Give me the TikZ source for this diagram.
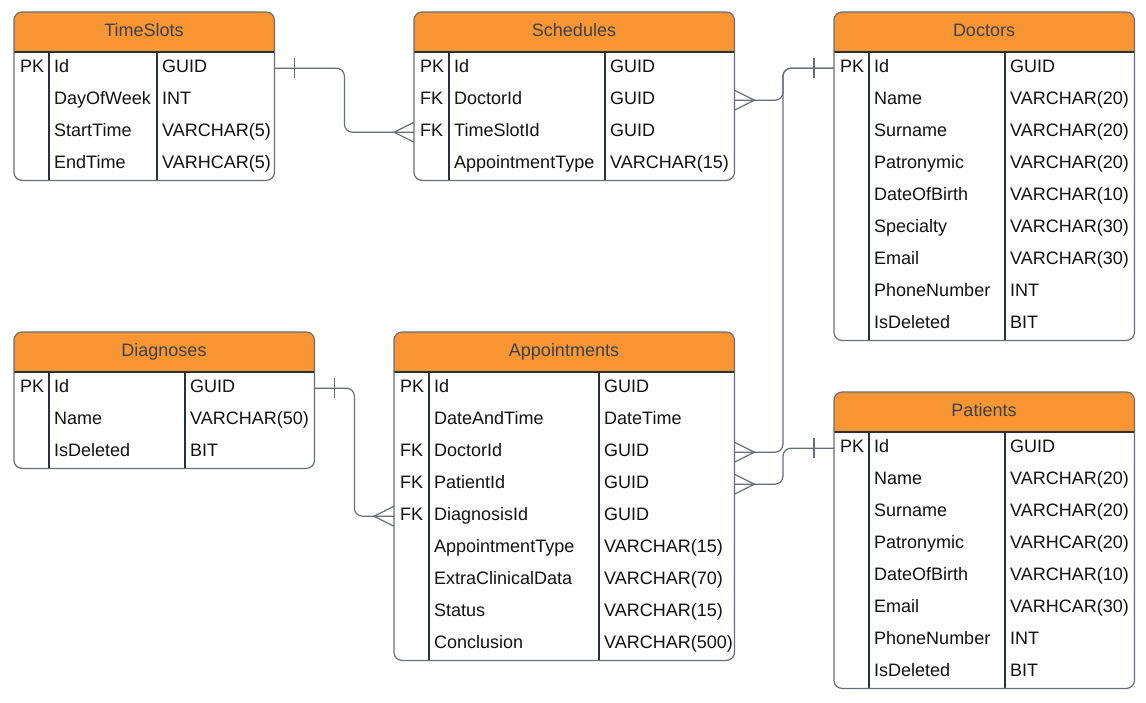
\documentclass[tikz,border=0pt]{standalone}
\usepackage{fontspec}
\setmainfont{Liberation Sans}
\usetikzlibrary{calc}

\definecolor{hdr}{RGB}{249,150,51}
\definecolor{ttl}{RGB}{58,65,74}
\definecolor{edge}{RGB}{104,110,120}
\definecolor{rule}{RGB}{44,48,56}
\definecolor{txt}{RGB}{18,18,18}

\tikzset{
  tablebox/.style={fill=white, inner sep=0pt, anchor=north west},
  outline/.style={draw=edge, line width=1.2pt, rounded corners=8pt},
  divider/.style={draw=rule, line width=1.1pt},
  rowbox/.style={inner sep=0pt, minimum height=32pt, anchor=north west},
  cell/.style={anchor=base west, inner sep=0pt, text=txt, font=\fontsize{18}{22}\selectfont},
  title/.style={anchor=base, inner sep=0pt, text=ttl, font=\fontsize{18}{22}\selectfont},
  link/.style={draw=edge, line width=1.2pt, rounded corners=8pt},
  endmark/.style={draw=edge, line width=1.2pt, sharp corners},
}

% #1 name, #2 left, #3 top, #4 width, #5 offset of the type column,
% #6 title, #7 rows as key/field/type
\newcommand\erdtable[7]{%
  \foreach \k/\n/\t [count=\i] in {#7} {\xdef\erdrows{\i}}
  \pgfmathsetmacro\erdh{40+32*\erdrows}
  \node[tablebox, minimum width=#4pt, minimum height=\erdh pt] (#1) at (#2,#3) {};
  \fill[hdr] (#2,#3+40) [rounded corners=8pt] -- (#2,#3) -- (#2+#4,#3)
    [sharp corners] -- (#2+#4,#3+40) -- cycle;
  \node[title] (#1-title) at (#2+#4/2,#3+24) {#6};
  \draw[divider] (#2,#3+40) -- (#2+#4,#3+40);
  \draw[divider] (#2+35,#3+40) -- (#2+35,#3+\erdh);
  \draw[divider] (#2+#5,#3+40) -- (#2+#5,#3+\erdh);
  \draw[outline] (#1.north west) rectangle (#1.south east);
  \foreach \k/\n/\t [count=\i] in {#7} {
    \node[rowbox, minimum width=#4pt] (#1-\i) at (#2,#3+8+32*\i) {};
    \node[cell] (#1-\i-k) at (#2+6,#3+28+32*\i) {\k};
    \node[cell] (#1-\i-n) at (#2+40,#3+28+32*\i) {\n};
    \node[cell] (#1-\i-t) at (#2+#5+5,#3+28+32*\i) {\t};
  }
}

% one / many ends of a relationship; #2 = +1 to the right, -1 to the left
\newcommand\erdone[2]{\draw[endmark] ($(#1)+(#2*20,-10)$) -- ($(#1)+(#2*20,10)$);}
\newcommand\erdmany[2]{\draw[endmark] ($(#1)+(0,-10)$) -- ($(#1)+(#2*20,0)$) -- ($(#1)+(0,10)$);}

\begin{document}
\begin{tikzpicture}[x=1pt,y=-1pt]
\useasboundingbox (0,0) rectangle (1146,702);

\erdtable{ts}{14}{12}{260}{143}{TimeSlots}{%
  PK/Id/GUID, /DayOfWeek/INT, /StartTime/VARCHAR(5), /EndTime/VARHCAR(5)}

\erdtable{sc}{414}{12}{320}{191}{Schedules}{%
  PK/Id/GUID, FK/DoctorId/GUID, FK/TimeSlotId/GUID, /AppointmentType/VARCHAR(15)}

\erdtable{dr}{834}{12}{300}{171}{Doctors}{%
  PK/Id/GUID, /Name/VARCHAR(20), /Surname/VARCHAR(20), /Patronymic/VARCHAR(20),
  /DateOfBirth/VARCHAR(10), /Specialty/VARCHAR(30), /Email/VARCHAR(30),
  /PhoneNumber/INT, /IsDeleted/BIT}

\erdtable{dg}{14}{332}{300}{171}{Diagnoses}{%
  PK/Id/GUID, /Name/VARCHAR(50), /IsDeleted/BIT}

\erdtable{ap}{394}{332}{340}{205}{Appointments}{%
  PK/Id/GUID, /DateAndTime/DateTime, FK/DoctorId/GUID, FK/PatientId/GUID,
  FK/DiagnosisId/GUID, /AppointmentType/VARCHAR(15), /ExtraClinicalData/VARCHAR(70),
  /Status/VARCHAR(15), /Conclusion/VARCHAR(500)}

\erdtable{pt}{834}{392}{300}{171}{Patients}{%
  PK/Id/GUID, /Name/VARCHAR(20), /Surname/VARCHAR(20), /Patronymic/VARHCAR(20),
  /DateOfBirth/VARCHAR(10), /Email/VARHCAR(30), /PhoneNumber/INT, /IsDeleted/BIT}

% relationships
\draw[link] (ts-1.east) -- ++(70,0) |- (sc-3.west);
\erdone{ts-1.east}{1}
\erdmany{sc-3.west}{-1}

\draw[link] (dr-1.west) -- ++(-51,0) |- (sc-2.east);
\draw[link] (dr-1.west) -- ++(-51,0) |- (ap-3.east);
\erdone{dr-1.west}{-1}
\erdmany{sc-2.east}{1}
\erdmany{ap-3.east}{1}

\draw[link] (pt-1.west) -- ++(-51,0) |- (ap-4.east);
\erdone{pt-1.west}{-1}
\erdmany{ap-4.east}{1}

\draw[link] (dg-1.east) -- ++(40,0) |- (ap-5.west);
\erdone{dg-1.east}{1}
\erdmany{ap-5.west}{-1}
\end{tikzpicture}
\end{document}
